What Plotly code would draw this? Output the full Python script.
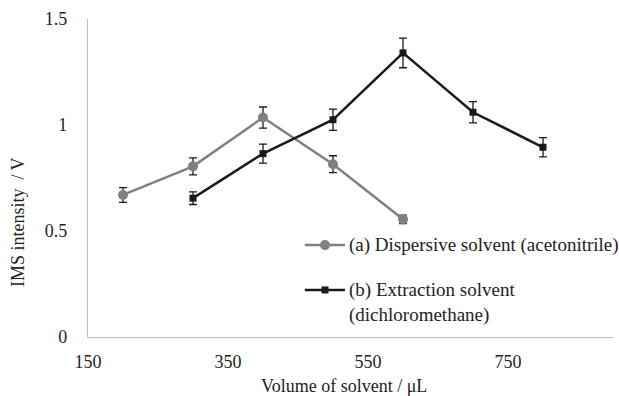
import plotly.graph_objects as go

# Solvent volume (µL) and IMS response (V) with standard deviations
vol_a = [200, 300, 400, 500, 600]
int_a = [0.67, 0.805, 1.035, 0.815, 0.555]
err_a = [0.035, 0.04, 0.05, 0.04, 0.02]

vol_b = [300, 400, 500, 600, 700, 800]
int_b = [0.655, 0.865, 1.025, 1.34, 1.06, 0.895]
err_b = [0.03, 0.045, 0.05, 0.07, 0.05, 0.045]

name_a = "(a) Dispersive solvent (acetonitrile)"
name_b = "(b) Extraction solvent<br>(dichloromethane)"

x_ticks = [150, 350, 550, 750]
y_ticks = [0, 0.5, 1, 1.5]
y_tick_text = ["0", "0.5", "1", "1.5"]

x_title = "Volume of solvent / μL"
y_title = "IMS intensity  / V"

FONT = "Liberation Serif"
TXT = "#222222"
GRAY = "#808080"
BLACK = "#1a1a1a"

fig = go.Figure()
fig.add_trace(go.Scatter(
    x=vol_a, y=int_a, name=name_a, mode="lines+markers",
    line=dict(color=GRAY, width=2.5),
    marker=dict(symbol="circle", size=10, color=GRAY),
    error_y=dict(type="data", array=err_a, color=BLACK, thickness=1.3, width=4),
))
fig.add_trace(go.Scatter(
    x=vol_b, y=int_b, name=name_b, mode="lines+markers",
    line=dict(color=BLACK, width=2.5),
    marker=dict(symbol="square", size=7, color=BLACK),
    error_y=dict(type="data", array=err_b, color=BLACK, thickness=1.3, width=4),
))

# Legend key drawn inside the plot area (paper coordinates)
legend_rows = [
    dict(name=name_a, color=GRAY, symbol="circle", size=10, y=0.289, ytext=0.289),
    dict(name=name_b, color=BLACK, symbol="square", size=7, y=0.148, ytext=0.108),
]
x0, x1, xm, xt = 0.413, 0.4895, 0.4514, 0.494
for row in legend_rows:
    fig.add_shape(type="line", xref="paper", yref="paper",
                  x0=x0, x1=x1, y0=row["y"], y1=row["y"],
                  line=dict(color=row["color"], width=2.5))
    half = row["size"] / 2
    fig.add_shape(type="circle" if row["symbol"] == "circle" else "rect",
                  xref="paper", yref="paper",
                  xsizemode="pixel", ysizemode="pixel",
                  xanchor=xm, yanchor=row["y"],
                  x0=-half, x1=half, y0=-half, y1=half,
                  fillcolor=row["color"], line=dict(color=row["color"], width=0))
    fig.add_annotation(text=row["name"], xref="paper", yref="paper",
                       x=xt, y=row["ytext"], xanchor="left", yanchor="middle",
                       align="left", showarrow=False,
                       font=dict(family=FONT, size=19, color=TXT))

# Axis titles placed as paper-anchored annotations
fig.add_annotation(text=x_title, xref="paper", yref="paper", x=0.488, y=-0.154,
                   xanchor="center", yanchor="middle", showarrow=False,
                   font=dict(family=FONT, size=18, color=TXT))
fig.add_annotation(text=y_title, xref="paper", yref="paper", x=-0.133, y=0.362,
                   xanchor="center", yanchor="middle", showarrow=False, textangle=-90,
                   font=dict(family=FONT, size=18, color=TXT))

fig.update_layout(
    width=619, height=396,
    margin=dict(l=88, r=6, t=19, b=59),
    paper_bgcolor="white", plot_bgcolor="white",
    font=dict(family=FONT, size=18, color=TXT),
    showlegend=False,
    xaxis=dict(
        range=[150, 900], tickvals=x_ticks, showgrid=False, zeroline=False,
        showline=True, linecolor="#bfbfbf", linewidth=1.2,
        ticks="outside", ticklen=8, tickcolor="rgba(0,0,0,0)",
        tickfont=dict(family=FONT, size=18, color=TXT),
    ),
    yaxis=dict(
        range=[0, 1.5], tickvals=y_ticks, ticktext=y_tick_text,
        showgrid=False, zeroline=False,
        showline=True, linecolor="#bfbfbf", linewidth=1.2,
        ticks="outside", ticklen=16, tickcolor="rgba(0,0,0,0)",
        tickfont=dict(family=FONT, size=18, color=TXT),
    ),
)

fig.write_html("out.html")
